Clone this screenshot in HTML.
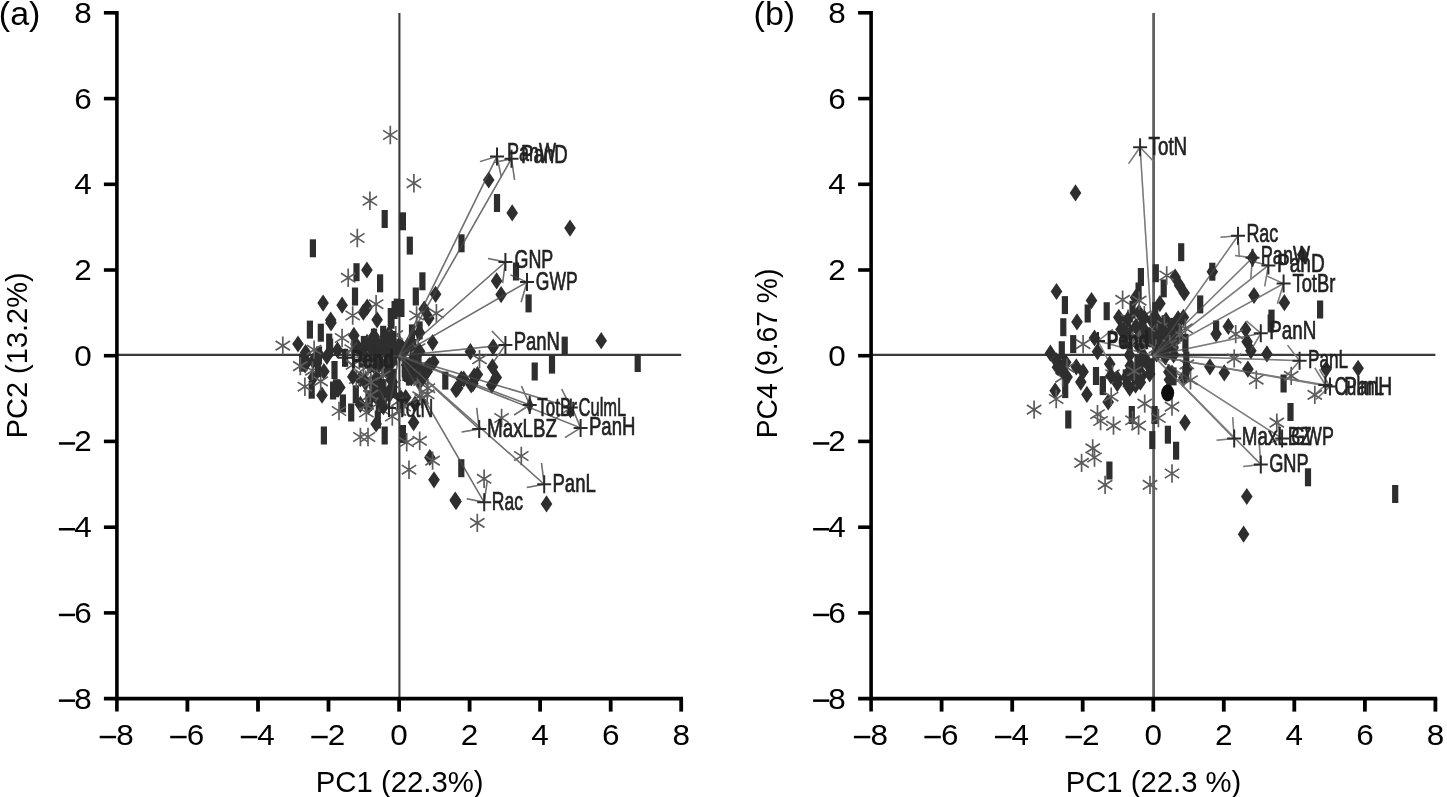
<!DOCTYPE html>
<html><head><meta charset="utf-8"><title>PCA biplots</title>
<style>
html,body{margin:0;padding:0;background:#fff;}
body{width:1447px;height:797px;overflow:hidden;}
svg{display:block;will-change:transform;}
text{font-family:"Liberation Sans",sans-serif;}
.t{font-size:28.6px;fill:#000;}
.l{font-size:26px;fill:#222;stroke:#222;stroke-width:0.7px;}
</style></head><body>
<svg width="1447" height="797" viewBox="0 0 1447 797">
<defs><filter id="b" x="-5%" y="-5%" width="110%" height="110%"><feGaussianBlur stdDeviation="0.55"/></filter></defs>
<rect width="1447" height="797" fill="#fff"/>
<g id="left">
<line x1="399.4" y1="13" x2="399.4" y2="698.6" stroke="#3a3a3a" stroke-width="2.1"/>
<line x1="116.9" y1="354.9" x2="681.2" y2="354.9" stroke="#3a3a3a" stroke-width="2.4"/>
<line x1="116.9" y1="11" x2="116.9" y2="711.6" stroke="#000" stroke-width="3.6"/>
<line x1="103.9" y1="698.6" x2="683.0" y2="698.6" stroke="#000" stroke-width="3.8"/>
<rect x="99.7" y="735.8" width="16.4" height="2.5" fill="#000"/>
<text class="t" transform="translate(125.0 745.0) scale(1.10 1)" text-anchor="middle">8</text>
<text class="t" transform="translate(82.9 708.6) scale(1.10 1)" text-anchor="middle">8</text>
<rect x="58.9" y="699.4" width="16.2" height="2.5" fill="#000"/>
<line x1="187.4" y1="698.6" x2="187.4" y2="711.6" stroke="#000" stroke-width="3.8"/>
<line x1="103.9" y1="612.9" x2="116.9" y2="612.9" stroke="#000" stroke-width="3.6"/>
<rect x="170.2" y="735.8" width="16.4" height="2.5" fill="#000"/>
<text class="t" transform="translate(195.5 745.0) scale(1.10 1)" text-anchor="middle">6</text>
<text class="t" transform="translate(82.9 622.9) scale(1.10 1)" text-anchor="middle">6</text>
<rect x="58.9" y="613.7" width="16.2" height="2.5" fill="#000"/>
<line x1="258.0" y1="698.6" x2="258.0" y2="711.6" stroke="#000" stroke-width="3.8"/>
<line x1="103.9" y1="527.2" x2="116.9" y2="527.2" stroke="#000" stroke-width="3.6"/>
<rect x="240.8" y="735.8" width="16.4" height="2.5" fill="#000"/>
<text class="t" transform="translate(266.1 745.0) scale(1.10 1)" text-anchor="middle">4</text>
<text class="t" transform="translate(82.9 537.2) scale(1.10 1)" text-anchor="middle">4</text>
<rect x="58.9" y="528.0" width="16.2" height="2.5" fill="#000"/>
<line x1="328.5" y1="698.6" x2="328.5" y2="711.6" stroke="#000" stroke-width="3.8"/>
<line x1="103.9" y1="441.4" x2="116.9" y2="441.4" stroke="#000" stroke-width="3.6"/>
<rect x="311.3" y="735.8" width="16.4" height="2.5" fill="#000"/>
<text class="t" transform="translate(336.6 745.0) scale(1.10 1)" text-anchor="middle">2</text>
<text class="t" transform="translate(82.9 451.4) scale(1.10 1)" text-anchor="middle">2</text>
<rect x="58.9" y="442.2" width="16.2" height="2.5" fill="#000"/>
<line x1="399.1" y1="698.6" x2="399.1" y2="711.6" stroke="#000" stroke-width="3.8"/>
<line x1="103.9" y1="355.7" x2="116.9" y2="355.7" stroke="#000" stroke-width="3.6"/>
<text class="t" transform="translate(399.1 745.0) scale(1.10 1)" text-anchor="middle">0</text>
<text class="t" transform="translate(82.9 365.7) scale(1.10 1)" text-anchor="middle">0</text>
<line x1="469.6" y1="698.6" x2="469.6" y2="711.6" stroke="#000" stroke-width="3.8"/>
<line x1="103.9" y1="270.0" x2="116.9" y2="270.0" stroke="#000" stroke-width="3.6"/>
<text class="t" transform="translate(469.6 745.0) scale(1.10 1)" text-anchor="middle">2</text>
<text class="t" transform="translate(82.9 280.0) scale(1.10 1)" text-anchor="middle">2</text>
<line x1="540.1" y1="698.6" x2="540.1" y2="711.6" stroke="#000" stroke-width="3.8"/>
<line x1="103.9" y1="184.3" x2="116.9" y2="184.3" stroke="#000" stroke-width="3.6"/>
<text class="t" transform="translate(540.1 745.0) scale(1.10 1)" text-anchor="middle">4</text>
<text class="t" transform="translate(82.9 194.3) scale(1.10 1)" text-anchor="middle">4</text>
<line x1="610.7" y1="698.6" x2="610.7" y2="711.6" stroke="#000" stroke-width="3.8"/>
<line x1="103.9" y1="98.6" x2="116.9" y2="98.6" stroke="#000" stroke-width="3.6"/>
<text class="t" transform="translate(610.7 745.0) scale(1.10 1)" text-anchor="middle">6</text>
<text class="t" transform="translate(82.9 108.6) scale(1.10 1)" text-anchor="middle">6</text>
<line x1="681.2" y1="698.6" x2="681.2" y2="711.6" stroke="#000" stroke-width="3.8"/>
<line x1="103.9" y1="12.8" x2="116.9" y2="12.8" stroke="#000" stroke-width="3.6"/>
<text class="t" transform="translate(681.2 745.0) scale(1.10 1)" text-anchor="middle">8</text>
<text class="t" transform="translate(82.9 22.8) scale(1.10 1)" text-anchor="middle">8</text>
<g filter="url(#b)">
<path d="M399.1 355.7L497.0 156.4M497.0 156.4L501.3 177.2M497.0 156.4L479.9 161.6" stroke="#707070" stroke-width="1.5" fill="none" opacity="1"/>
<path d="M399.1 355.7L511.5 158.7M511.5 158.7L514.6 179.8M511.5 158.7L494.1 162.5" stroke="#707070" stroke-width="1.5" fill="none" opacity="1"/>
<path d="M399.1 355.7L505.4 262.0M505.4 262.0L502.6 283.2M505.4 262.0L488.0 258.6" stroke="#707070" stroke-width="1.5" fill="none" opacity="1"/>
<path d="M399.1 355.7L527.0 282.1M527.0 282.1L521.1 302.3M527.0 282.1L510.4 274.9" stroke="#707070" stroke-width="1.5" fill="none" opacity="1"/>
<path d="M399.1 355.7L505.4 344.9M505.4 344.9L494.0 361.3M505.4 344.9L491.9 331.1" stroke="#707070" stroke-width="1.5" fill="none" opacity="1"/>
<path d="M399.1 355.7L529.7 405.0M529.7 405.0L514.1 415.0M529.7 405.0L521.5 386.0" stroke="#707070" stroke-width="1.5" fill="none" opacity="1"/>
<path d="M399.1 355.7L570.8 407.4M570.8 407.4L555.7 418.5M570.8 407.4L561.7 389.0" stroke="#707070" stroke-width="1.5" fill="none" opacity="1"/>
<path d="M399.1 355.7L580.6 427.9M580.6 427.9L564.9 437.6M580.6 427.9L572.6 408.8" stroke="#707070" stroke-width="1.5" fill="none" opacity="1"/>
<path d="M399.1 355.7L479.2 429.0M479.2 429.0L461.7 432.0M479.2 429.0L476.7 407.8" stroke="#707070" stroke-width="1.5" fill="none" opacity="1"/>
<path d="M399.1 355.7L544.2 484.2M544.2 484.2L526.8 487.5M544.2 484.2L541.5 463.0" stroke="#707070" stroke-width="1.5" fill="none" opacity="1"/>
<path d="M399.1 355.7L484.2 502.3M484.2 502.3L466.8 498.7M484.2 502.3L487.2 481.2" stroke="#707070" stroke-width="1.5" fill="none" opacity="1"/>
<path d="M399.1 355.7L345.0 357.8M345.0 357.8L357.1 342.2M345.0 357.8L357.9 372.5" stroke="#707070" stroke-width="1.5" fill="none" opacity="1"/>
<path d="M399.1 355.7L389.0 408.0M389.0 408.0L379.7 389.8M389.0 408.0L404.0 396.7" stroke="#707070" stroke-width="1.5" fill="none" opacity="1"/>
<rect x="381.6" y="210.0" width="6.2" height="18" fill="#2e2e2e"/>
<rect x="399.8" y="212.3" width="6.2" height="18" fill="#2e2e2e"/>
<rect x="309.8" y="239.3" width="6.2" height="18" fill="#2e2e2e"/>
<rect x="406.7" y="236.6" width="6.2" height="18" fill="#2e2e2e"/>
<rect x="458.4" y="234.3" width="6.2" height="18" fill="#2e2e2e"/>
<rect x="353.4" y="263.2" width="6.2" height="18" fill="#2e2e2e"/>
<rect x="377.0" y="274.3" width="6.2" height="18" fill="#2e2e2e"/>
<rect x="419.3" y="272.3" width="6.2" height="18" fill="#2e2e2e"/>
<rect x="351.9" y="287.5" width="6.2" height="18" fill="#2e2e2e"/>
<rect x="412.7" y="287.5" width="6.2" height="18" fill="#2e2e2e"/>
<rect x="398.3" y="299.0" width="6.2" height="18" fill="#2e2e2e"/>
<rect x="391.5" y="301.0" width="6.2" height="18" fill="#2e2e2e"/>
<rect x="387.7" y="308.0" width="6.2" height="18" fill="#2e2e2e"/>
<rect x="493.9" y="194.0" width="6.2" height="18" fill="#2e2e2e"/>
<rect x="512.9" y="262.5" width="6.2" height="18" fill="#2e2e2e"/>
<rect x="525.5" y="294.4" width="6.2" height="18" fill="#2e2e2e"/>
<rect x="561.6" y="336.6" width="6.2" height="18" fill="#2e2e2e"/>
<rect x="634.6" y="354.0" width="6.2" height="18" fill="#2e2e2e"/>
<rect x="548.9" y="355.6" width="6.2" height="18" fill="#2e2e2e"/>
<rect x="531.6" y="362.5" width="6.2" height="18" fill="#2e2e2e"/>
<rect x="442.2" y="371.6" width="6.2" height="18" fill="#2e2e2e"/>
<rect x="458.2" y="459.2" width="6.2" height="18" fill="#2e2e2e"/>
<rect x="306.8" y="320.6" width="6.2" height="18" fill="#2e2e2e"/>
<rect x="317.7" y="323.7" width="6.2" height="18" fill="#2e2e2e"/>
<rect x="308.6" y="380.7" width="6.2" height="18" fill="#2e2e2e"/>
<rect x="326.1" y="333.6" width="6.2" height="18" fill="#2e2e2e"/>
<rect x="331.4" y="361.0" width="6.2" height="18" fill="#2e2e2e"/>
<rect x="342.0" y="348.8" width="6.2" height="18" fill="#2e2e2e"/>
<rect x="393.7" y="298.6" width="6.2" height="18" fill="#2e2e2e"/>
<rect x="388.4" y="310.8" width="6.2" height="18" fill="#2e2e2e"/>
<rect x="408.9" y="324.4" width="6.2" height="18" fill="#2e2e2e"/>
<rect x="416.5" y="321.4" width="6.2" height="18" fill="#2e2e2e"/>
<rect x="339.8" y="394.4" width="6.2" height="18" fill="#2e2e2e"/>
<rect x="348.1" y="403.5" width="6.2" height="18" fill="#2e2e2e"/>
<rect x="352.7" y="385.3" width="6.2" height="18" fill="#2e2e2e"/>
<rect x="320.8" y="426.5" width="6.2" height="18" fill="#2e2e2e"/>
<rect x="381.6" y="426.5" width="6.2" height="18" fill="#2e2e2e"/>
<rect x="399.8" y="425.0" width="6.2" height="18" fill="#2e2e2e"/>
<rect x="374.7" y="410.5" width="6.2" height="18" fill="#2e2e2e"/>
<path d="M366.9 261.4L372.7 270.0L366.9 278.6L361.1 270.0Z" fill="#2e2e2e"/>
<path d="M323.1 294.5L328.9 303.1L323.1 311.7L317.3 303.1Z" fill="#2e2e2e"/>
<path d="M342.1 296.6L347.9 305.2L342.1 313.8L336.3 305.2Z" fill="#2e2e2e"/>
<path d="M435.6 285.7L441.4 294.3L435.6 302.9L429.8 294.3Z" fill="#2e2e2e"/>
<path d="M367.2 298.6L373.0 307.2L367.2 315.8L361.4 307.2Z" fill="#2e2e2e"/>
<path d="M330.7 311.4L336.5 320.0L330.7 328.6L324.9 320.0Z" fill="#2e2e2e"/>
<path d="M512.2 204.3L518.0 212.9L512.2 221.5L506.4 212.9Z" fill="#2e2e2e"/>
<path d="M570.0 219.5L575.8 228.1L570.0 236.7L564.2 228.1Z" fill="#2e2e2e"/>
<path d="M496.6 272.3L502.4 280.9L496.6 289.5L490.8 280.9Z" fill="#2e2e2e"/>
<path d="M501.1 286.0L506.9 294.6L501.1 303.2L495.3 294.6Z" fill="#2e2e2e"/>
<path d="M601.2 332.1L607.0 340.7L601.2 349.3L595.4 340.7Z" fill="#2e2e2e"/>
<path d="M470.4 343.1L476.2 351.7L470.4 360.3L464.6 351.7Z" fill="#2e2e2e"/>
<path d="M493.2 338.5L499.0 347.1L493.2 355.7L487.4 347.1Z" fill="#2e2e2e"/>
<path d="M492.5 358.3L498.3 366.9L492.5 375.5L486.7 366.9Z" fill="#2e2e2e"/>
<path d="M496.3 368.9L502.1 377.5L496.3 386.1L490.5 377.5Z" fill="#2e2e2e"/>
<path d="M491.7 376.4L497.5 385.0L491.7 393.6L485.9 385.0Z" fill="#2e2e2e"/>
<path d="M474.2 367.4L480.0 376.0L474.2 384.6L468.4 376.0Z" fill="#2e2e2e"/>
<path d="M471.2 376.4L477.0 385.0L471.2 393.6L465.4 385.0Z" fill="#2e2e2e"/>
<path d="M461.3 370.4L467.1 379.0L461.3 387.6L455.5 379.0Z" fill="#2e2e2e"/>
<path d="M456.0 381.1L461.8 389.7L456.0 398.3L450.2 389.7Z" fill="#2e2e2e"/>
<path d="M488.7 171.4L494.5 180.0L488.7 188.6L482.9 180.0Z" fill="#2e2e2e"/>
<path d="M455.2 491.4L461.0 500.0L455.2 508.6L449.4 500.0Z" fill="#2e2e2e"/>
<path d="M429.9 448.9L435.7 457.5L429.9 466.1L424.1 457.5Z" fill="#2e2e2e"/>
<path d="M434.0 471.2L439.8 479.8L434.0 488.4L428.2 479.8Z" fill="#2e2e2e"/>
<path d="M456.0 493.0L461.8 501.6L456.0 510.2L450.2 501.6Z" fill="#2e2e2e"/>
<path d="M546.5 495.3L552.3 503.9L546.5 512.5L540.7 503.9Z" fill="#2e2e2e"/>
<path d="M298.0 335.4L303.8 344.0L298.0 352.6L292.2 344.0Z" fill="#2e2e2e"/>
<path d="M305.6 343.9L311.4 352.5L305.6 361.1L299.8 352.5Z" fill="#2e2e2e"/>
<path d="M331.0 314.2L336.8 322.8L331.0 331.4L325.2 322.8Z" fill="#2e2e2e"/>
<path d="M313.2 368.9L319.0 377.5L313.2 386.1L307.4 377.5Z" fill="#2e2e2e"/>
<path d="M313.2 352.2L319.0 360.8L313.2 369.4L307.4 360.8Z" fill="#2e2e2e"/>
<path d="M323.9 362.9L329.7 371.5L323.9 380.1L318.1 371.5Z" fill="#2e2e2e"/>
<path d="M326.9 347.7L332.7 356.3L326.9 364.9L321.1 356.3Z" fill="#2e2e2e"/>
<path d="M337.5 341.6L343.3 350.2L337.5 358.8L331.7 350.2Z" fill="#2e2e2e"/>
<path d="M339.8 378.8L345.6 387.4L339.8 396.0L334.0 387.4Z" fill="#2e2e2e"/>
<path d="M355.8 335.5L361.6 344.1L355.8 352.7L350.0 344.1Z" fill="#2e2e2e"/>
<path d="M363.4 303.6L369.2 312.2L363.4 320.8L357.6 312.2Z" fill="#2e2e2e"/>
<path d="M377.1 311.2L382.9 319.8L377.1 328.4L371.3 319.8Z" fill="#2e2e2e"/>
<path d="M374.0 327.9L379.8 336.5L374.0 345.1L368.2 336.5Z" fill="#2e2e2e"/>
<path d="M389.2 324.8L395.0 333.4L389.2 342.0L383.4 333.4Z" fill="#2e2e2e"/>
<path d="M399.9 335.4L405.7 344.0L399.9 352.6L394.1 344.0Z" fill="#2e2e2e"/>
<path d="M424.2 300.5L430.0 309.1L424.2 317.7L418.4 309.1Z" fill="#2e2e2e"/>
<path d="M428.8 309.6L434.6 318.2L428.8 326.8L423.0 318.2Z" fill="#2e2e2e"/>
<path d="M432.6 334.0L438.4 342.6L432.6 351.2L426.8 342.6Z" fill="#2e2e2e"/>
<path d="M457.7 379.6L463.5 388.2L457.7 396.8L451.9 388.2Z" fill="#2e2e2e"/>
<path d="M463.7 370.4L469.5 379.0L463.7 387.6L457.9 379.0Z" fill="#2e2e2e"/>
<path d="M472.9 375.0L478.7 383.6L472.9 392.2L467.1 383.6Z" fill="#2e2e2e"/>
<path d="M477.4 365.9L483.2 374.5L477.4 383.1L471.6 374.5Z" fill="#2e2e2e"/>
<path d="M416.5 364.4L422.3 373.0L416.5 381.6L410.7 373.0Z" fill="#2e2e2e"/>
<path d="M427.2 362.9L433.0 371.5L427.2 380.1L421.4 371.5Z" fill="#2e2e2e"/>
<path d="M419.6 373.5L425.4 382.1L419.6 390.7L413.8 382.1Z" fill="#2e2e2e"/>
<path d="M413.6 414.0L419.4 422.6L413.6 431.2L407.8 422.6Z" fill="#2e2e2e"/>
<path d="M415.0 395.4L420.8 404.0L415.0 412.6L409.2 404.0Z" fill="#2e2e2e"/>
<rect x="383.8" y="355.2" width="6.2" height="18" fill="#2e2e2e"/>
<path d="M414.3 356.2L420.1 364.8L414.3 373.4L408.5 364.8Z" fill="#2e2e2e"/>
<path d="M353.9 326.8L359.7 335.4L353.9 344.0L348.1 335.4Z" fill="#2e2e2e"/>
<rect x="409.6" y="350.5" width="6.2" height="18" fill="#2e2e2e"/>
<rect x="390.4" y="368.7" width="6.2" height="18" fill="#2e2e2e"/>
<path d="M396.8 338.2L402.6 346.8L396.8 355.4L391.0 346.8Z" fill="#2e2e2e"/>
<rect x="370.9" y="328.6" width="6.2" height="18" fill="#2e2e2e"/>
<path d="M374.2 338.0L380.0 346.6L374.2 355.2L368.4 346.6Z" fill="#2e2e2e"/>
<path d="M429.9 356.7L435.7 365.3L429.9 373.9L424.1 365.3Z" fill="#2e2e2e"/>
<path d="M370.2 357.3L376.0 365.9L370.2 374.5L364.4 365.9Z" fill="#2e2e2e"/>
<rect x="360.8" y="335.9" width="6.2" height="18" fill="#2e2e2e"/>
<path d="M367.1 333.8L372.9 342.4L367.1 351.0L361.3 342.4Z" fill="#2e2e2e"/>
<rect x="414.7" y="362.3" width="6.2" height="18" fill="#2e2e2e"/>
<path d="M374.8 331.5V349.9M367.6 336.1L382.0 345.3M367.6 345.3L382.0 336.1" stroke="#5c5c5c" stroke-width="1.7" fill="none"/>
<path d="M395.8 325.9V344.3M388.6 330.5L403.0 339.7M388.6 339.7L403.0 330.5" stroke="#5c5c5c" stroke-width="1.7" fill="none"/>
<path d="M382.2 356.8L388.0 365.4L382.2 374.0L376.4 365.4Z" fill="#2e2e2e"/>
<path d="M387.3 333.6L393.1 342.2L387.3 350.8L381.5 342.2Z" fill="#2e2e2e"/>
<path d="M351.7 340.0V358.4M344.5 344.6L358.9 353.8M344.5 353.8L358.9 344.6" stroke="#5c5c5c" stroke-width="1.7" fill="none"/>
<rect x="375.7" y="395.0" width="6.2" height="18" fill="#2e2e2e"/>
<path d="M380.0 345.6L385.8 354.2L380.0 362.8L374.2 354.2Z" fill="#2e2e2e"/>
<rect x="402.3" y="363.0" width="6.2" height="18" fill="#2e2e2e"/>
<path d="M399.8 344.7L405.6 353.3L399.8 361.9L394.0 353.3Z" fill="#2e2e2e"/>
<path d="M382.0 359.9V378.3M374.8 364.5L389.2 373.7M374.8 373.7L389.2 364.5" stroke="#5c5c5c" stroke-width="1.7" fill="none"/>
<rect x="369.5" y="336.4" width="6.2" height="18" fill="#2e2e2e"/>
<rect x="410.2" y="339.0" width="6.2" height="18" fill="#2e2e2e"/>
<path d="M420.9 356.2V374.6M413.7 360.8L428.1 370.0M413.7 370.0L428.1 360.8" stroke="#5c5c5c" stroke-width="1.7" fill="none"/>
<path d="M387.7 363.8L393.5 372.4L387.7 381.0L381.9 372.4Z" fill="#2e2e2e"/>
<path d="M414.0 349.2L419.8 357.8L414.0 366.4L408.2 357.8Z" fill="#2e2e2e"/>
<path d="M374.1 332.9L379.9 341.5L374.1 350.1L368.3 341.5Z" fill="#2e2e2e"/>
<path d="M393.2 337.0L399.0 345.6L393.2 354.2L387.4 345.6Z" fill="#2e2e2e"/>
<path d="M356.3 369.8V388.2M349.1 374.4L363.5 383.6M349.1 383.6L363.5 374.4" stroke="#5c5c5c" stroke-width="1.7" fill="none"/>
<path d="M411.1 355.9L416.9 364.5L411.1 373.1L405.3 364.5Z" fill="#2e2e2e"/>
<path d="M419.5 324.1L425.3 332.7L419.5 341.3L413.7 332.7Z" fill="#2e2e2e"/>
<path d="M376.1 295.0V313.4M368.9 299.6L383.3 308.8M368.9 308.8L383.3 299.6" stroke="#5c5c5c" stroke-width="1.7" fill="none"/>
<path d="M403.0 343.7L408.8 352.3L403.0 360.9L397.2 352.3Z" fill="#2e2e2e"/>
<rect x="405.9" y="367.5" width="6.2" height="18" fill="#2e2e2e"/>
<path d="M365.4 348.7L371.2 357.3L365.4 365.9L359.6 357.3Z" fill="#2e2e2e"/>
<path d="M389.8 356.3L395.6 364.9L389.8 373.5L384.0 364.9Z" fill="#2e2e2e"/>
<path d="M378.5 336.4L384.3 345.0L378.5 353.6L372.7 345.0Z" fill="#2e2e2e"/>
<rect x="380.1" y="325.8" width="6.2" height="18" fill="#2e2e2e"/>
<path d="M353.0 355.6V374.0M345.8 360.2L360.2 369.4M345.8 369.4L360.2 360.2" stroke="#5c5c5c" stroke-width="1.7" fill="none"/>
<path d="M375.9 356.6V375.0M368.7 361.2L383.1 370.4M368.7 370.4L383.1 361.2" stroke="#5c5c5c" stroke-width="1.7" fill="none"/>
<rect x="384.1" y="341.2" width="6.2" height="18" fill="#2e2e2e"/>
<rect x="410.4" y="344.1" width="6.2" height="18" fill="#2e2e2e"/>
<rect x="385.4" y="351.0" width="6.2" height="18" fill="#2e2e2e"/>
<path d="M369.3 337.3L375.1 345.9L369.3 354.5L363.5 345.9Z" fill="#2e2e2e"/>
<path d="M386.2 341.9L392.0 350.5L386.2 359.1L380.4 350.5Z" fill="#2e2e2e"/>
<path d="M383.4 339.7L389.2 348.3L383.4 356.9L377.6 348.3Z" fill="#2e2e2e"/>
<path d="M418.1 339.0V357.4M410.9 343.6L425.3 352.8M410.9 352.8L425.3 343.6" stroke="#5c5c5c" stroke-width="1.7" fill="none"/>
<path d="M419.9 370.2V388.6M412.7 374.8L427.1 384.0M412.7 384.0L427.1 374.8" stroke="#5c5c5c" stroke-width="1.7" fill="none"/>
<path d="M374.8 348.3L380.6 356.9L374.8 365.5L369.0 356.9Z" fill="#2e2e2e"/>
<path d="M406.7 356.3L412.5 364.9L406.7 373.5L400.9 364.9Z" fill="#2e2e2e"/>
<rect x="358.5" y="349.7" width="6.2" height="18" fill="#2e2e2e"/>
<path d="M405.7 389.0L411.5 397.6L405.7 406.2L399.9 397.6Z" fill="#2e2e2e"/>
<rect x="404.0" y="363.9" width="6.2" height="18" fill="#2e2e2e"/>
<rect x="389.8" y="330.9" width="6.2" height="18" fill="#2e2e2e"/>
<path d="M386.8 333.2L392.6 341.8L386.8 350.4L381.0 341.8Z" fill="#2e2e2e"/>
<path d="M407.7 337.2L413.5 345.8L407.7 354.4L401.9 345.8Z" fill="#2e2e2e"/>
<path d="M358.0 340.0L363.8 348.6L358.0 357.2L352.2 348.6Z" fill="#2e2e2e"/>
<path d="M374.0 327.6L379.8 336.2L374.0 344.8L368.2 336.2Z" fill="#2e2e2e"/>
<path d="M373.5 356.6L379.3 365.2L373.5 373.8L367.7 365.2Z" fill="#2e2e2e"/>
<rect x="365.4" y="390.3" width="6.2" height="18" fill="#2e2e2e"/>
<path d="M393.7 375.4V393.8M386.5 380.0L400.9 389.2M386.5 389.2L400.9 380.0" stroke="#5c5c5c" stroke-width="1.7" fill="none"/>
<path d="M360.4 395.8L366.2 404.4L360.4 413.0L354.6 404.4Z" fill="#2e2e2e"/>
<path d="M322.0 386.6L327.8 395.2L322.0 403.8L316.2 395.2Z" fill="#2e2e2e"/>
<path d="M378.5 374.2L384.3 382.8L378.5 391.4L372.7 382.8Z" fill="#2e2e2e"/>
<path d="M378.2 385.5L384.0 394.1L378.2 402.7L372.4 394.1Z" fill="#2e2e2e"/>
<rect x="366.0" y="393.1" width="6.2" height="18" fill="#2e2e2e"/>
<rect x="332.9" y="379.2" width="6.2" height="18" fill="#2e2e2e"/>
<path d="M366.6 371.6V390.0M359.4 376.2L373.8 385.4M359.4 385.4L373.8 376.2" stroke="#5c5c5c" stroke-width="1.7" fill="none"/>
<path d="M368.0 357.2V375.6M360.8 361.8L375.2 371.0M360.8 371.0L375.2 361.8" stroke="#5c5c5c" stroke-width="1.7" fill="none"/>
<path d="M376.7 369.2L382.5 377.8L376.7 386.4L370.9 377.8Z" fill="#2e2e2e"/>
<path d="M399.2 391.8V410.2M392.0 396.4L406.4 405.6M392.0 405.6L406.4 396.4" stroke="#5c5c5c" stroke-width="1.7" fill="none"/>
<rect x="330.0" y="381.5" width="6.2" height="18" fill="#2e2e2e"/>
<path d="M360.3 370.2L366.1 378.8L360.3 387.4L354.5 378.8Z" fill="#2e2e2e"/>
<path d="M385.7 379.6V398.0M378.5 384.2L392.9 393.4M378.5 393.4L392.9 384.2" stroke="#5c5c5c" stroke-width="1.7" fill="none"/>
<path d="M365.5 370.5V388.9M358.3 375.1L372.7 384.3M358.3 384.3L372.7 375.1" stroke="#5c5c5c" stroke-width="1.7" fill="none"/>
<path d="M352.8 368.1L358.6 376.7L352.8 385.3L347.0 376.7Z" fill="#2e2e2e"/>
<rect x="390.9" y="379.9" width="6.2" height="18" fill="#2e2e2e"/>
<path d="M320.7 372.2V390.6M313.5 376.8L327.9 386.0M313.5 386.0L327.9 376.8" stroke="#5c5c5c" stroke-width="1.7" fill="none"/>
<path d="M373.8 376.7L379.6 385.3L373.8 393.9L368.0 385.3Z" fill="#2e2e2e"/>
<path d="M374.3 378.9L380.1 387.5L374.3 396.1L368.5 387.5Z" fill="#2e2e2e"/>
<path d="M363.4 366.2V384.6M356.2 370.8L370.6 380.0M356.2 380.0L370.6 370.8" stroke="#5c5c5c" stroke-width="1.7" fill="none"/>
<path d="M365.2 373.7L371.0 382.3L365.2 390.9L359.4 382.3Z" fill="#2e2e2e"/>
<path d="M383.2 366.2V384.6M376.0 370.8L390.4 380.0M376.0 380.0L390.4 370.8" stroke="#5c5c5c" stroke-width="1.7" fill="none"/>
<path d="M379.2 355.6L385.0 364.2L379.2 372.8L373.4 364.2Z" fill="#2e2e2e"/>
<rect x="303.0" y="348.6" width="6.2" height="18" fill="#2e2e2e"/>
<rect x="327.0" y="338.6" width="6.2" height="18" fill="#2e2e2e"/>
<path d="M318.9 345.8L324.7 354.4L318.9 363.0L313.1 354.4Z" fill="#2e2e2e"/>
<rect x="299.0" y="353.7" width="6.2" height="18" fill="#2e2e2e"/>
<path d="M312.4 361.5V379.9M305.2 366.1L319.6 375.3M305.2 375.3L319.6 366.1" stroke="#5c5c5c" stroke-width="1.7" fill="none"/>
<rect x="315.9" y="346.4" width="6.2" height="18" fill="#2e2e2e"/>
<rect x="315.0" y="359.1" width="6.2" height="18" fill="#2e2e2e"/>
<rect x="302.1" y="350.4" width="6.2" height="18" fill="#2e2e2e"/>
<path d="M305.1 356.2L310.9 364.8L305.1 373.4L299.3 364.8Z" fill="#2e2e2e"/>
<path d="M314.1 340.5V358.9M306.9 345.1L321.3 354.3M306.9 354.3L321.3 345.1" stroke="#5c5c5c" stroke-width="1.7" fill="none"/>
<path d="M407.5 363.0L413.3 371.6L407.5 380.2L401.7 371.6Z" fill="#2e2e2e"/>
<path d="M433.7 353.5L439.5 362.1L433.7 370.7L427.9 362.1Z" fill="#2e2e2e"/>
<rect x="414.8" y="358.4" width="6.2" height="18" fill="#2e2e2e"/>
<path d="M408.2 368.9L414.0 377.5L408.2 386.1L402.4 377.5Z" fill="#2e2e2e"/>
<path d="M408.8 366.4L414.6 375.0L408.8 383.6L403.0 375.0Z" fill="#2e2e2e"/>
<path d="M419.5 342.6L425.3 351.2L419.5 359.8L413.7 351.2Z" fill="#2e2e2e"/>
<path d="M428.3 358.1L434.1 366.7L428.3 375.3L422.5 366.7Z" fill="#2e2e2e"/>
<path d="M427.9 379.0V397.4M420.7 383.6L435.1 392.8M420.7 392.8L435.1 383.6" stroke="#5c5c5c" stroke-width="1.7" fill="none"/>
<path d="M419.7 387.0V405.4M412.5 391.6L426.9 400.8M412.5 400.8L426.9 391.6" stroke="#5c5c5c" stroke-width="1.7" fill="none"/>
<path d="M419.5 359.5L425.3 368.1L419.5 376.7L413.7 368.1Z" fill="#2e2e2e"/>
<path d="M420.6 371.8V390.2M413.4 376.4L427.8 385.6M413.4 385.6L427.8 376.4" stroke="#5c5c5c" stroke-width="1.7" fill="none"/>
<path d="M411.5 369.0L417.3 377.6L411.5 386.2L405.7 377.6Z" fill="#2e2e2e"/>
<path d="M423.0 368.6L428.8 377.2L423.0 385.8L417.2 377.2Z" fill="#2e2e2e"/>
<rect x="401.7" y="359.4" width="6.2" height="18" fill="#2e2e2e"/>
<path d="M368.3 397.8L374.1 406.4L368.3 415.0L362.5 406.4Z" fill="#2e2e2e"/>
<path d="M375.3 387.0L381.1 395.6L375.3 404.2L369.5 395.6Z" fill="#2e2e2e"/>
<path d="M386.0 386.3L391.8 394.9L386.0 403.5L380.2 394.9Z" fill="#2e2e2e"/>
<path d="M376.1 415.4L381.9 424.0L376.1 432.6L370.3 424.0Z" fill="#2e2e2e"/>
<path d="M379.1 393.6V412.0M371.9 398.2L386.3 407.4M371.9 407.4L386.3 398.2" stroke="#5c5c5c" stroke-width="1.7" fill="none"/>
<path d="M391.4 371.6L397.2 380.2L391.4 388.8L385.6 380.2Z" fill="#2e2e2e"/>
<path d="M366.6 395.8V414.2M359.4 400.4L373.8 409.6M359.4 409.6L373.8 400.4" stroke="#5c5c5c" stroke-width="1.7" fill="none"/>
<rect x="375.2" y="381.6" width="6.2" height="18" fill="#2e2e2e"/>
<rect x="379.4" y="379.1" width="6.2" height="18" fill="#2e2e2e"/>
<rect x="376.6" y="389.4" width="6.2" height="18" fill="#2e2e2e"/>
<path d="M381.7 382.2L387.5 390.8L381.7 399.4L375.9 390.8Z" fill="#2e2e2e"/>
<path d="M403.7 397.3V415.7M396.5 401.9L410.9 411.1M396.5 411.1L410.9 401.9" stroke="#5c5c5c" stroke-width="1.7" fill="none"/>
<path d="M421.7 389.8V408.2M414.5 394.4L428.9 403.6M414.5 403.6L428.9 394.4" stroke="#5c5c5c" stroke-width="1.7" fill="none"/>
<path d="M389.2 382.8L395.0 391.4L389.2 400.0L383.4 391.4Z" fill="#2e2e2e"/>
<rect x="396.6" y="392.5" width="6.2" height="18" fill="#2e2e2e"/>
<path d="M389.9 385.5L395.7 394.1L389.9 402.7L384.1 394.1Z" fill="#2e2e2e"/>
<path d="M383.4 398.1L389.2 406.7L383.4 415.3L377.6 406.7Z" fill="#2e2e2e"/>
<path d="M371.3 385.1V403.5M364.1 389.7L378.5 398.9M364.1 398.9L378.5 389.7" stroke="#5c5c5c" stroke-width="1.7" fill="none"/>
<path d="M371.9 387.4L377.7 396.0L371.9 404.6L366.1 396.0Z" fill="#2e2e2e"/>
<rect x="390.8" y="347.4" width="6.2" height="18" fill="#2e2e2e"/>
<path d="M401.0 389.4L406.8 398.0L401.0 406.6L395.2 398.0Z" fill="#2e2e2e"/>
<path d="M370.3 385.9V404.3M363.1 390.5L377.5 399.7M363.1 399.7L377.5 390.5" stroke="#5c5c5c" stroke-width="1.7" fill="none"/>
<path d="M398.9 401.7V420.1M391.7 406.3L406.1 415.5M391.7 415.5L406.1 406.3" stroke="#5c5c5c" stroke-width="1.7" fill="none"/>
<path d="M370.9 373.2V391.6M363.7 377.8L378.1 387.0M363.7 387.0L378.1 377.8" stroke="#5c5c5c" stroke-width="1.7" fill="none"/>
<path d="M390.3 125.8V144.2M383.1 130.4L397.5 139.6M383.1 139.6L397.5 130.4" stroke="#5c5c5c" stroke-width="1.7" fill="none"/>
<path d="M413.9 174.0V192.4M406.7 178.6L421.1 187.8M406.7 187.8L421.1 178.6" stroke="#5c5c5c" stroke-width="1.7" fill="none"/>
<path d="M369.9 191.6V210.0M362.7 196.2L377.1 205.4M362.7 205.4L377.1 196.2" stroke="#5c5c5c" stroke-width="1.7" fill="none"/>
<path d="M357.3 228.8V247.2M350.1 233.4L364.5 242.6M350.1 242.6L364.5 233.4" stroke="#5c5c5c" stroke-width="1.7" fill="none"/>
<path d="M348.2 268.6V287.0M341.0 273.2L355.4 282.4M341.0 282.4L355.4 273.2" stroke="#5c5c5c" stroke-width="1.7" fill="none"/>
<path d="M352.7 306.3V324.7M345.5 310.9L359.9 320.1M345.5 320.1L359.9 310.9" stroke="#5c5c5c" stroke-width="1.7" fill="none"/>
<path d="M416.6 306.3V324.7M409.4 310.9L423.8 320.1M409.4 320.1L423.8 310.9" stroke="#5c5c5c" stroke-width="1.7" fill="none"/>
<path d="M436.4 304.1V322.5M429.2 308.7L443.6 317.9M429.2 317.9L443.6 308.7" stroke="#5c5c5c" stroke-width="1.7" fill="none"/>
<path d="M479.5 350.1V368.5M472.3 354.7L486.7 363.9M472.3 363.9L486.7 354.7" stroke="#5c5c5c" stroke-width="1.7" fill="none"/>
<path d="M501.6 408.8V427.2M494.4 413.4L508.8 422.6M494.4 422.6L508.8 413.4" stroke="#5c5c5c" stroke-width="1.7" fill="none"/>
<path d="M521.3 446.8V465.2M514.1 451.4L528.5 460.6M514.1 460.6L528.5 451.4" stroke="#5c5c5c" stroke-width="1.7" fill="none"/>
<path d="M484.1 469.6V488.0M476.9 474.2L491.3 483.4M476.9 483.4L491.3 474.2" stroke="#5c5c5c" stroke-width="1.7" fill="none"/>
<path d="M477.3 513.7V532.1M470.1 518.3L484.5 527.5M470.1 527.5L484.5 518.3" stroke="#5c5c5c" stroke-width="1.7" fill="none"/>
<path d="M282.8 336.4V354.8M275.6 341.0L290.0 350.2M275.6 350.2L290.0 341.0" stroke="#5c5c5c" stroke-width="1.7" fill="none"/>
<path d="M342.1 328.8V347.2M334.9 333.4L349.3 342.6M334.9 342.6L349.3 333.4" stroke="#5c5c5c" stroke-width="1.7" fill="none"/>
<path d="M300.3 356.9V375.3M293.1 361.5L307.5 370.7M293.1 370.7L307.5 361.5" stroke="#5c5c5c" stroke-width="1.7" fill="none"/>
<path d="M304.9 377.5V395.9M297.7 382.1L312.1 391.3M297.7 391.3L312.1 382.1" stroke="#5c5c5c" stroke-width="1.7" fill="none"/>
<path d="M427.2 385.1V403.5M420.0 389.7L434.4 398.9M420.0 398.9L434.4 389.7" stroke="#5c5c5c" stroke-width="1.7" fill="none"/>
<path d="M339.0 401.8V420.2M331.8 406.4L346.2 415.6M331.8 415.6L346.2 406.4" stroke="#5c5c5c" stroke-width="1.7" fill="none"/>
<path d="M366.4 403.3V421.7M359.2 407.9L373.6 417.1M359.2 417.1L373.6 407.9" stroke="#5c5c5c" stroke-width="1.7" fill="none"/>
<path d="M360.4 427.8V446.2M353.2 432.4L367.6 441.6M353.2 441.6L367.6 432.4" stroke="#5c5c5c" stroke-width="1.7" fill="none"/>
<path d="M368.0 427.8V446.2M360.8 432.4L375.2 441.6M360.8 441.6L375.2 432.4" stroke="#5c5c5c" stroke-width="1.7" fill="none"/>
<path d="M406.7 433.1V451.5M399.5 437.7L413.9 446.9M399.5 446.9L413.9 437.7" stroke="#5c5c5c" stroke-width="1.7" fill="none"/>
<path d="M419.7 431.6V450.0M412.5 436.2L426.9 445.4M412.5 445.4L426.9 436.2" stroke="#5c5c5c" stroke-width="1.7" fill="none"/>
<path d="M432.6 451.4V469.8M425.4 456.0L439.8 465.2M425.4 465.2L439.8 456.0" stroke="#5c5c5c" stroke-width="1.7" fill="none"/>
<path d="M409.0 460.5V478.9M401.8 465.1L416.2 474.3M401.8 474.3L416.2 465.1" stroke="#5c5c5c" stroke-width="1.7" fill="none"/>
<path d="M392.3 407.3V425.7M385.1 411.9L399.5 421.1M385.1 421.1L399.5 411.9" stroke="#5c5c5c" stroke-width="1.7" fill="none"/>
<path d="M529.7 396.5L533.4 405.2L529.7 414L526 405.2Z" fill="#2e2e2e"/>
<path d="M570.4 405.5L574.6 412L570.4 418.5L566.2 412Z" fill="#2e2e2e"/>
<path d="M399.1 355.7L497.0 156.4M497.0 156.4L501.3 177.2M497.0 156.4L479.9 161.6" stroke="#707070" stroke-width="1.5" fill="none" opacity="0.3"/>
<path d="M399.1 355.7L511.5 158.7M511.5 158.7L514.6 179.8M511.5 158.7L494.1 162.5" stroke="#707070" stroke-width="1.5" fill="none" opacity="0.3"/>
<path d="M399.1 355.7L505.4 262.0M505.4 262.0L502.6 283.2M505.4 262.0L488.0 258.6" stroke="#707070" stroke-width="1.5" fill="none" opacity="0.3"/>
<path d="M399.1 355.7L527.0 282.1M527.0 282.1L521.1 302.3M527.0 282.1L510.4 274.9" stroke="#707070" stroke-width="1.5" fill="none" opacity="0.3"/>
<path d="M399.1 355.7L505.4 344.9M505.4 344.9L494.0 361.3M505.4 344.9L491.9 331.1" stroke="#707070" stroke-width="1.5" fill="none" opacity="0.3"/>
<path d="M399.1 355.7L529.7 405.0M529.7 405.0L514.1 415.0M529.7 405.0L521.5 386.0" stroke="#707070" stroke-width="1.5" fill="none" opacity="0.3"/>
<path d="M399.1 355.7L570.8 407.4M570.8 407.4L555.7 418.5M570.8 407.4L561.7 389.0" stroke="#707070" stroke-width="1.5" fill="none" opacity="0.3"/>
<path d="M399.1 355.7L580.6 427.9M580.6 427.9L564.9 437.6M580.6 427.9L572.6 408.8" stroke="#707070" stroke-width="1.5" fill="none" opacity="0.3"/>
<path d="M399.1 355.7L479.2 429.0M479.2 429.0L461.7 432.0M479.2 429.0L476.7 407.8" stroke="#707070" stroke-width="1.5" fill="none" opacity="0.3"/>
<path d="M399.1 355.7L544.2 484.2M544.2 484.2L526.8 487.5M544.2 484.2L541.5 463.0" stroke="#707070" stroke-width="1.5" fill="none" opacity="0.3"/>
<path d="M399.1 355.7L484.2 502.3M484.2 502.3L466.8 498.7M484.2 502.3L487.2 481.2" stroke="#707070" stroke-width="1.5" fill="none" opacity="0.3"/>
<path d="M399.1 355.7L345.0 357.8M345.0 357.8L357.1 342.2M345.0 357.8L357.9 372.5" stroke="#707070" stroke-width="1.5" fill="none" opacity="0.3"/>
<path d="M399.1 355.7L389.0 408.0M389.0 408.0L379.7 389.8M389.0 408.0L404.0 396.7" stroke="#707070" stroke-width="1.5" fill="none" opacity="0.3"/>
<path d="M490.0 156.4H504.0M497.0 147.4V165.4" stroke="#2c2c2c" stroke-width="2.0" fill="none"/>
<path d="M504.5 158.7H518.5M511.5 149.7V167.7" stroke="#2c2c2c" stroke-width="2.0" fill="none"/>
<path d="M498.4 262.0H512.4M505.4 253.0V271.0" stroke="#2c2c2c" stroke-width="2.0" fill="none"/>
<path d="M520.0 282.1H534.0M527.0 273.1V291.1" stroke="#2c2c2c" stroke-width="2.0" fill="none"/>
<path d="M498.4 344.9H512.4M505.4 335.9V353.9" stroke="#2c2c2c" stroke-width="2.0" fill="none"/>
<path d="M522.7 405.0H536.7M529.7 396.0V414.0" stroke="#2c2c2c" stroke-width="2.0" fill="none"/>
<path d="M563.8 407.4H577.8M570.8 398.4V416.4" stroke="#2c2c2c" stroke-width="2.0" fill="none"/>
<path d="M573.6 427.9H587.6M580.6 418.9V436.9" stroke="#2c2c2c" stroke-width="2.0" fill="none"/>
<path d="M472.2 429.0H486.2M479.2 420.0V438.0" stroke="#2c2c2c" stroke-width="2.0" fill="none"/>
<path d="M537.2 484.2H551.2M544.2 475.2V493.2" stroke="#2c2c2c" stroke-width="2.0" fill="none"/>
<path d="M477.2 502.3H491.2M484.2 493.3V511.3" stroke="#2c2c2c" stroke-width="2.0" fill="none"/>
<path d="M338.0 357.8H352.0M345.0 348.8V366.8" stroke="#2c2c2c" stroke-width="2.0" fill="none"/>
<path d="M382.0 408.0H396.0M389.0 399.0V417.0" stroke="#2c2c2c" stroke-width="2.0" fill="none"/>
<text class="l" x="507.0" y="160.5" textLength="49.0" lengthAdjust="spacingAndGlyphs">PanW</text>
<text class="l" x="521.0" y="162.5" textLength="46.7" lengthAdjust="spacingAndGlyphs">PanD</text>
<text class="l" x="514.5" y="268.4" textLength="38.8" lengthAdjust="spacingAndGlyphs">GNP</text>
<text class="l" x="535.8" y="289.7" textLength="41.8" lengthAdjust="spacingAndGlyphs">GWP</text>
<text class="l" x="513.7" y="350.2" textLength="46.3" lengthAdjust="spacingAndGlyphs">PanN</text>
<text class="l" x="537.3" y="415.7" textLength="39.7" lengthAdjust="spacingAndGlyphs">TotBr</text>
<text class="l" x="578.5" y="416.0" textLength="47.8" lengthAdjust="spacingAndGlyphs">CulmL</text>
<text class="l" x="589.0" y="434.7" textLength="46.4" lengthAdjust="spacingAndGlyphs">PanH</text>
<text class="l" x="487.1" y="437.0" textLength="70.0" lengthAdjust="spacingAndGlyphs">MaxLBZ</text>
<text class="l" x="552.5" y="492.2" textLength="43.3" lengthAdjust="spacingAndGlyphs">PanL</text>
<text class="l" x="491.8" y="510.0" textLength="31.1" lengthAdjust="spacingAndGlyphs">Rac</text>
<text class="l" x="396.8" y="416.5" textLength="36.5" lengthAdjust="spacingAndGlyphs">TotN</text>
<text class="l" x="351.0" y="367.7" textLength="43.0" lengthAdjust="spacingAndGlyphs" font-weight="bold">Pend</text>
</g></g>
<g id="right">
<line x1="1153.6" y1="13" x2="1153.6" y2="698.6" stroke="#606060" stroke-width="2.8"/>
<line x1="871.1" y1="354.9" x2="1435.4" y2="354.9" stroke="#3a3a3a" stroke-width="2.4"/>
<line x1="871.1" y1="11" x2="871.1" y2="711.6" stroke="#000" stroke-width="3.6"/>
<line x1="858.1" y1="698.6" x2="1437.2" y2="698.6" stroke="#000" stroke-width="3.8"/>
<rect x="853.9" y="735.8" width="16.4" height="2.5" fill="#000"/>
<text class="t" transform="translate(879.2 745.0) scale(1.10 1)" text-anchor="middle">8</text>
<text class="t" transform="translate(837.1 708.6) scale(1.10 1)" text-anchor="middle">8</text>
<rect x="813.1" y="699.4" width="16.2" height="2.5" fill="#000"/>
<line x1="941.6" y1="698.6" x2="941.6" y2="711.6" stroke="#000" stroke-width="3.8"/>
<line x1="858.1" y1="612.9" x2="871.1" y2="612.9" stroke="#000" stroke-width="3.6"/>
<rect x="924.4" y="735.8" width="16.4" height="2.5" fill="#000"/>
<text class="t" transform="translate(949.7 745.0) scale(1.10 1)" text-anchor="middle">6</text>
<text class="t" transform="translate(837.1 622.9) scale(1.10 1)" text-anchor="middle">6</text>
<rect x="813.1" y="613.7" width="16.2" height="2.5" fill="#000"/>
<line x1="1012.2" y1="698.6" x2="1012.2" y2="711.6" stroke="#000" stroke-width="3.8"/>
<line x1="858.1" y1="527.2" x2="871.1" y2="527.2" stroke="#000" stroke-width="3.6"/>
<rect x="995.0" y="735.8" width="16.4" height="2.5" fill="#000"/>
<text class="t" transform="translate(1020.3 745.0) scale(1.10 1)" text-anchor="middle">4</text>
<text class="t" transform="translate(837.1 537.2) scale(1.10 1)" text-anchor="middle">4</text>
<rect x="813.1" y="528.0" width="16.2" height="2.5" fill="#000"/>
<line x1="1082.7" y1="698.6" x2="1082.7" y2="711.6" stroke="#000" stroke-width="3.8"/>
<line x1="858.1" y1="441.4" x2="871.1" y2="441.4" stroke="#000" stroke-width="3.6"/>
<rect x="1065.5" y="735.8" width="16.4" height="2.5" fill="#000"/>
<text class="t" transform="translate(1090.8 745.0) scale(1.10 1)" text-anchor="middle">2</text>
<text class="t" transform="translate(837.1 451.4) scale(1.10 1)" text-anchor="middle">2</text>
<rect x="813.1" y="442.2" width="16.2" height="2.5" fill="#000"/>
<line x1="1153.3" y1="698.6" x2="1153.3" y2="711.6" stroke="#000" stroke-width="3.8"/>
<line x1="858.1" y1="355.7" x2="871.1" y2="355.7" stroke="#000" stroke-width="3.6"/>
<text class="t" transform="translate(1153.3 745.0) scale(1.10 1)" text-anchor="middle">0</text>
<text class="t" transform="translate(837.1 365.7) scale(1.10 1)" text-anchor="middle">0</text>
<line x1="1223.8" y1="698.6" x2="1223.8" y2="711.6" stroke="#000" stroke-width="3.8"/>
<line x1="858.1" y1="270.0" x2="871.1" y2="270.0" stroke="#000" stroke-width="3.6"/>
<text class="t" transform="translate(1223.8 745.0) scale(1.10 1)" text-anchor="middle">2</text>
<text class="t" transform="translate(837.1 280.0) scale(1.10 1)" text-anchor="middle">2</text>
<line x1="1294.3" y1="698.6" x2="1294.3" y2="711.6" stroke="#000" stroke-width="3.8"/>
<line x1="858.1" y1="184.3" x2="871.1" y2="184.3" stroke="#000" stroke-width="3.6"/>
<text class="t" transform="translate(1294.3 745.0) scale(1.10 1)" text-anchor="middle">4</text>
<text class="t" transform="translate(837.1 194.3) scale(1.10 1)" text-anchor="middle">4</text>
<line x1="1364.9" y1="698.6" x2="1364.9" y2="711.6" stroke="#000" stroke-width="3.8"/>
<line x1="858.1" y1="98.6" x2="871.1" y2="98.6" stroke="#000" stroke-width="3.6"/>
<text class="t" transform="translate(1364.9 745.0) scale(1.10 1)" text-anchor="middle">6</text>
<text class="t" transform="translate(837.1 108.6) scale(1.10 1)" text-anchor="middle">6</text>
<line x1="1435.4" y1="698.6" x2="1435.4" y2="711.6" stroke="#000" stroke-width="3.8"/>
<line x1="858.1" y1="12.8" x2="871.1" y2="12.8" stroke="#000" stroke-width="3.6"/>
<text class="t" transform="translate(1435.4 745.0) scale(1.10 1)" text-anchor="middle">8</text>
<text class="t" transform="translate(837.1 22.8) scale(1.10 1)" text-anchor="middle">8</text>
<g filter="url(#b)">
<path d="M1153.3 355.7L1140.1 147.3M1140.1 147.3L1153.5 161.2M1140.1 147.3L1128.6 163.6" stroke="#7c7c7c" stroke-width="1.5" fill="none" opacity="1"/>
<path d="M1153.3 355.7L1238.0 235.7M1238.0 235.7L1239.3 257.1M1238.0 235.7L1220.4 237.3" stroke="#7c7c7c" stroke-width="1.5" fill="none" opacity="1"/>
<path d="M1153.3 355.7L1252.5 257.8M1252.5 257.8L1250.7 279.1M1252.5 257.8L1235.0 255.6" stroke="#7c7c7c" stroke-width="1.5" fill="none" opacity="1"/>
<path d="M1153.3 355.7L1268.4 265.4M1268.4 265.4L1264.7 286.3M1268.4 265.4L1251.2 260.9" stroke="#7c7c7c" stroke-width="1.5" fill="none" opacity="1"/>
<path d="M1153.3 355.7L1283.6 283.6M1283.6 283.6L1277.4 303.7M1283.6 283.6L1267.1 276.1" stroke="#7c7c7c" stroke-width="1.5" fill="none" opacity="1"/>
<path d="M1153.3 355.7L1260.8 333.3M1260.8 333.3L1250.6 350.8M1260.8 333.3L1246.4 320.9" stroke="#7c7c7c" stroke-width="1.5" fill="none" opacity="1"/>
<path d="M1153.3 355.7L1299.6 360.7M1299.6 360.7L1286.8 375.4M1299.6 360.7L1287.5 345.1" stroke="#7c7c7c" stroke-width="1.5" fill="none" opacity="1"/>
<path d="M1153.3 355.7L1325.4 385.0M1325.4 385.0L1311.3 397.9M1325.4 385.0L1314.8 367.9" stroke="#7c7c7c" stroke-width="1.5" fill="none" opacity="1"/>
<path d="M1153.3 355.7L1330.0 386.5M1330.0 386.5L1315.9 399.4M1330.0 386.5L1319.4 369.4" stroke="#7c7c7c" stroke-width="1.5" fill="none" opacity="1"/>
<path d="M1153.3 355.7L1234.2 438.5M1234.2 438.5L1216.6 440.3M1234.2 438.5L1232.7 417.1" stroke="#7c7c7c" stroke-width="1.5" fill="none" opacity="1"/>
<path d="M1153.3 355.7L1282.1 438.5M1282.1 438.5L1265.2 444.8M1282.1 438.5L1276.9 418.0" stroke="#7c7c7c" stroke-width="1.5" fill="none" opacity="1"/>
<path d="M1153.3 355.7L1260.8 464.4M1260.8 464.4L1243.2 466.4M1260.8 464.4L1259.2 443.1" stroke="#7c7c7c" stroke-width="1.5" fill="none" opacity="1"/>
<path d="M1153.3 355.7L1098.0 341.0M1098.0 341.0L1112.9 329.4M1098.0 341.0L1107.5 359.0" stroke="#7c7c7c" stroke-width="1.5" fill="none" opacity="1"/>
<rect x="1178.1" y="243.2" width="6.2" height="18" fill="#2e2e2e"/>
<rect x="1197.1" y="295.4" width="6.2" height="18" fill="#2e2e2e"/>
<rect x="1137.8" y="268.0" width="6.2" height="18" fill="#2e2e2e"/>
<rect x="1152.7" y="264.2" width="6.2" height="18" fill="#2e2e2e"/>
<rect x="1160.6" y="279.4" width="6.2" height="18" fill="#2e2e2e"/>
<rect x="1152.2" y="302.2" width="6.2" height="18" fill="#2e2e2e"/>
<rect x="1135.5" y="282.5" width="6.2" height="18" fill="#2e2e2e"/>
<rect x="1129.4" y="300.7" width="6.2" height="18" fill="#2e2e2e"/>
<rect x="1061.8" y="296.1" width="6.2" height="18" fill="#2e2e2e"/>
<rect x="1060.2" y="318.2" width="6.2" height="18" fill="#2e2e2e"/>
<rect x="1084.6" y="304.5" width="6.2" height="18" fill="#2e2e2e"/>
<rect x="1103.6" y="302.2" width="6.2" height="18" fill="#2e2e2e"/>
<rect x="1213.0" y="320.5" width="6.2" height="18" fill="#2e2e2e"/>
<rect x="1209.2" y="262.7" width="6.2" height="18" fill="#2e2e2e"/>
<rect x="1317.0" y="300.5" width="6.2" height="18" fill="#2e2e2e"/>
<rect x="1268.4" y="309.6" width="6.2" height="18" fill="#2e2e2e"/>
<rect x="1267.6" y="314.5" width="6.2" height="18" fill="#2e2e2e"/>
<rect x="1280.5" y="374.5" width="6.2" height="18" fill="#2e2e2e"/>
<rect x="1287.4" y="403.0" width="6.2" height="18" fill="#2e2e2e"/>
<rect x="1304.9" y="468.3" width="6.2" height="18" fill="#2e2e2e"/>
<rect x="1392.1" y="485.0" width="6.2" height="18" fill="#2e2e2e"/>
<rect x="1065.2" y="410.5" width="6.2" height="18" fill="#2e2e2e"/>
<rect x="1128.7" y="406.0" width="6.2" height="18" fill="#2e2e2e"/>
<rect x="1151.5" y="406.0" width="6.2" height="18" fill="#2e2e2e"/>
<rect x="1149.2" y="431.1" width="6.2" height="18" fill="#2e2e2e"/>
<rect x="1164.8" y="425.7" width="6.2" height="18" fill="#2e2e2e"/>
<rect x="1173.0" y="441.7" width="6.2" height="18" fill="#2e2e2e"/>
<rect x="1106.3" y="461.5" width="6.2" height="18" fill="#2e2e2e"/>
<rect x="1062.1" y="380.1" width="6.2" height="18" fill="#2e2e2e"/>
<rect x="1099.8" y="377.1" width="6.2" height="18" fill="#2e2e2e"/>
<rect x="1058.7" y="341.2" width="6.2" height="18" fill="#2e2e2e"/>
<rect x="1070.1" y="335.1" width="6.2" height="18" fill="#2e2e2e"/>
<rect x="1092.9" y="367.0" width="6.2" height="18" fill="#2e2e2e"/>
<rect x="1099.8" y="376.1" width="6.2" height="18" fill="#2e2e2e"/>
<path d="M1075.5 184.3L1081.3 192.9L1075.5 201.5L1069.7 192.9Z" fill="#2e2e2e"/>
<path d="M1212.3 263.1L1218.1 271.7L1212.3 280.3L1206.5 271.7Z" fill="#2e2e2e"/>
<path d="M1175.1 268.4L1180.9 277.0L1175.1 285.6L1169.3 277.0Z" fill="#2e2e2e"/>
<path d="M1179.6 276.8L1185.4 285.4L1179.6 294.0L1173.8 285.4Z" fill="#2e2e2e"/>
<path d="M1184.2 284.4L1190.0 293.0L1184.2 301.6L1178.4 293.0Z" fill="#2e2e2e"/>
<path d="M1159.9 295.0L1165.7 303.6L1159.9 312.2L1154.1 303.6Z" fill="#2e2e2e"/>
<path d="M1135.6 288.9L1141.4 297.5L1135.6 306.1L1129.8 297.5Z" fill="#2e2e2e"/>
<path d="M1056.5 282.9L1062.3 291.5L1056.5 300.1L1050.7 291.5Z" fill="#2e2e2e"/>
<path d="M1091.5 292.0L1097.3 300.6L1091.5 309.2L1085.7 300.6Z" fill="#2e2e2e"/>
<path d="M1077.0 313.3L1082.8 321.9L1077.0 330.5L1071.2 321.9Z" fill="#2e2e2e"/>
<path d="M1118.8 308.7L1124.6 317.3L1118.8 325.9L1113.0 317.3Z" fill="#2e2e2e"/>
<path d="M1166.0 311.7L1171.8 320.3L1166.0 328.9L1160.2 320.3Z" fill="#2e2e2e"/>
<path d="M1178.1 310.2L1183.9 318.8L1178.1 327.4L1172.3 318.8Z" fill="#2e2e2e"/>
<path d="M1183.4 308.7L1189.2 317.3L1183.4 325.9L1177.6 317.3Z" fill="#2e2e2e"/>
<path d="M1228.3 317.8L1234.1 326.4L1228.3 335.0L1222.5 326.4Z" fill="#2e2e2e"/>
<path d="M1216.1 325.4L1221.9 334.0L1216.1 342.6L1210.3 334.0Z" fill="#2e2e2e"/>
<path d="M1302.6 246.1L1308.4 254.7L1302.6 263.3L1296.8 254.7Z" fill="#2e2e2e"/>
<path d="M1254.0 286.9L1259.8 295.5L1254.0 304.1L1248.2 295.5Z" fill="#2e2e2e"/>
<path d="M1284.4 294.1L1290.2 302.7L1284.4 311.3L1278.6 302.7Z" fill="#2e2e2e"/>
<path d="M1245.6 320.9L1251.4 329.5L1245.6 338.1L1239.8 329.5Z" fill="#2e2e2e"/>
<path d="M1247.1 333.1L1252.9 341.7L1247.1 350.3L1241.3 341.7Z" fill="#2e2e2e"/>
<path d="M1250.9 342.2L1256.7 350.8L1250.9 359.4L1245.1 350.8Z" fill="#2e2e2e"/>
<path d="M1266.9 345.3L1272.7 353.9L1266.9 362.5L1261.1 353.9Z" fill="#2e2e2e"/>
<path d="M1209.9 358.2L1215.7 366.8L1209.9 375.4L1204.1 366.8Z" fill="#2e2e2e"/>
<path d="M1224.3 364.3L1230.1 372.9L1224.3 381.5L1218.5 372.9Z" fill="#2e2e2e"/>
<path d="M1247.9 360.5L1253.7 369.1L1247.9 377.7L1242.1 369.1Z" fill="#2e2e2e"/>
<path d="M1326.2 360.5L1332.0 369.1L1326.2 377.7L1320.4 369.1Z" fill="#2e2e2e"/>
<path d="M1358.1 359.7L1363.9 368.3L1358.1 376.9L1352.3 368.3Z" fill="#2e2e2e"/>
<path d="M1246.8 487.9L1252.6 496.5L1246.8 505.1L1241.0 496.5Z" fill="#2e2e2e"/>
<path d="M1243.6 525.6L1249.4 534.2L1243.6 542.8L1237.8 534.2Z" fill="#2e2e2e"/>
<path d="M1086.9 385.8L1092.7 394.4L1086.9 403.0L1081.1 394.4Z" fill="#2e2e2e"/>
<path d="M1108.2 393.4L1114.0 402.0L1108.2 410.6L1102.4 402.0Z" fill="#2e2e2e"/>
<path d="M1185.0 414.0L1190.8 422.6L1185.0 431.2L1179.2 422.6Z" fill="#2e2e2e"/>
<path d="M1166.7 384.3L1172.5 392.9L1166.7 401.5L1160.9 392.9Z" fill="#2e2e2e"/>
<path d="M1094.5 329.4L1100.3 338.0L1094.5 346.6L1088.7 338.0Z" fill="#2e2e2e"/>
<path d="M1097.5 343.1L1103.3 351.7L1097.5 360.3L1091.7 351.7Z" fill="#2e2e2e"/>
<path d="M1050.4 344.6L1056.2 353.2L1050.4 361.8L1044.6 353.2Z" fill="#2e2e2e"/>
<path d="M1056.5 352.2L1062.3 360.8L1056.5 369.4L1050.7 360.8Z" fill="#2e2e2e"/>
<path d="M1065.6 353.7L1071.4 362.3L1065.6 370.9L1059.8 362.3Z" fill="#2e2e2e"/>
<path d="M1076.3 358.3L1082.1 366.9L1076.3 375.5L1070.5 366.9Z" fill="#2e2e2e"/>
<path d="M1065.6 367.4L1071.4 376.0L1065.6 384.6L1059.8 376.0Z" fill="#2e2e2e"/>
<path d="M1080.8 373.5L1086.6 382.1L1080.8 390.7L1075.0 382.1Z" fill="#2e2e2e"/>
<path d="M1109.7 355.3L1115.5 363.9L1109.7 372.5L1103.9 363.9Z" fill="#2e2e2e"/>
<path d="M1117.3 375.0L1123.1 383.6L1117.3 392.2L1111.5 383.6Z" fill="#2e2e2e"/>
<path d="M1129.5 362.9L1135.3 371.5L1129.5 380.1L1123.7 371.5Z" fill="#2e2e2e"/>
<path d="M1141.6 367.4L1147.4 376.0L1141.6 384.6L1135.8 376.0Z" fill="#2e2e2e"/>
<path d="M1135.6 376.5L1141.4 385.1L1135.6 393.7L1129.8 385.1Z" fill="#2e2e2e"/>
<path d="M1172.0 324.8L1177.8 333.4L1172.0 342.0L1166.2 333.4Z" fill="#2e2e2e"/>
<path d="M1187.2 359.8L1193.0 368.4L1187.2 377.0L1181.4 368.4Z" fill="#2e2e2e"/>
<path d="M1172.0 364.4L1177.8 373.0L1172.0 381.6L1166.2 373.0Z" fill="#2e2e2e"/>
<path d="M1167.5 382.6L1173.3 391.2L1167.5 399.8L1161.7 391.2Z" fill="#2e2e2e"/>
<path d="M1252.5 249.2L1258.3 257.8L1252.5 266.4L1246.7 257.8Z" fill="#2e2e2e"/>
<path d="M1155.5 325.3L1161.3 333.9L1155.5 342.5L1149.7 333.9Z" fill="#2e2e2e"/>
<path d="M1156.6 326.1L1162.4 334.7L1156.6 343.3L1150.8 334.7Z" fill="#2e2e2e"/>
<rect x="1126.7" y="333.8" width="6.2" height="18" fill="#2e2e2e"/>
<path d="M1143.4 325.5L1149.2 334.1L1143.4 342.7L1137.6 334.1Z" fill="#2e2e2e"/>
<path d="M1137.1 328.7V347.1M1129.9 333.3L1144.3 342.5M1129.9 342.5L1144.3 333.3" stroke="#5c5c5c" stroke-width="1.7" fill="none"/>
<path d="M1158.4 313.3L1164.2 321.9L1158.4 330.5L1152.6 321.9Z" fill="#2e2e2e"/>
<rect x="1118.9" y="315.4" width="6.2" height="18" fill="#2e2e2e"/>
<path d="M1132.9 328.7V347.1M1125.7 333.3L1140.1 342.5M1125.7 342.5L1140.1 333.3" stroke="#5c5c5c" stroke-width="1.7" fill="none"/>
<path d="M1157.2 327.7L1163.0 336.3L1157.2 344.9L1151.4 336.3Z" fill="#2e2e2e"/>
<path d="M1161.8 324.6L1167.6 333.2L1161.8 341.8L1156.0 333.2Z" fill="#2e2e2e"/>
<path d="M1174.3 333.2L1180.1 341.8L1174.3 350.4L1168.5 341.8Z" fill="#2e2e2e"/>
<path d="M1141.5 327.3V345.7M1134.3 331.9L1148.7 341.1M1134.3 341.1L1148.7 331.9" stroke="#5c5c5c" stroke-width="1.7" fill="none"/>
<path d="M1153.2 332.7L1159.0 341.3L1153.2 349.9L1147.4 341.3Z" fill="#2e2e2e"/>
<rect x="1139.2" y="349.5" width="6.2" height="18" fill="#2e2e2e"/>
<path d="M1141.4 332.4V350.8M1134.2 337.0L1148.6 346.2M1134.2 346.2L1148.6 337.0" stroke="#5c5c5c" stroke-width="1.7" fill="none"/>
<path d="M1128.3 320.7L1134.1 329.3L1128.3 337.9L1122.5 329.3Z" fill="#2e2e2e"/>
<path d="M1138.1 336.3L1143.9 344.9L1138.1 353.5L1132.3 344.9Z" fill="#2e2e2e"/>
<path d="M1128.1 309.6V328.0M1120.9 314.2L1135.3 323.4M1120.9 323.4L1135.3 314.2" stroke="#5c5c5c" stroke-width="1.7" fill="none"/>
<path d="M1144.3 306.1V324.5M1137.1 310.7L1151.5 319.9M1137.1 319.9L1151.5 310.7" stroke="#5c5c5c" stroke-width="1.7" fill="none"/>
<path d="M1157.2 344.2L1163.0 352.8L1157.2 361.4L1151.4 352.8Z" fill="#2e2e2e"/>
<path d="M1171.2 333.5V351.9M1164.0 338.1L1178.4 347.3M1164.0 347.3L1178.4 338.1" stroke="#5c5c5c" stroke-width="1.7" fill="none"/>
<path d="M1139.0 303.7L1144.8 312.3L1139.0 320.9L1133.2 312.3Z" fill="#2e2e2e"/>
<rect x="1161.5" y="315.3" width="6.2" height="18" fill="#2e2e2e"/>
<path d="M1151.8 312.1L1157.6 320.7L1151.8 329.3L1146.0 320.7Z" fill="#2e2e2e"/>
<path d="M1146.0 329.3L1151.8 337.9L1146.0 346.5L1140.2 337.9Z" fill="#2e2e2e"/>
<path d="M1157.1 323.6V342.0M1149.9 328.2L1164.3 337.4M1149.9 337.4L1164.3 328.2" stroke="#5c5c5c" stroke-width="1.7" fill="none"/>
<path d="M1121.0 320.8L1126.8 329.4L1121.0 338.0L1115.2 329.4Z" fill="#2e2e2e"/>
<rect x="1137.6" y="327.1" width="6.2" height="18" fill="#2e2e2e"/>
<rect x="1138.7" y="311.6" width="6.2" height="18" fill="#2e2e2e"/>
<path d="M1138.8 322.8V341.2M1131.6 327.4L1146.0 336.6M1131.6 336.6L1146.0 327.4" stroke="#5c5c5c" stroke-width="1.7" fill="none"/>
<path d="M1141.9 332.5L1147.7 341.1L1141.9 349.7L1136.1 341.1Z" fill="#2e2e2e"/>
<path d="M1144.6 349.1L1150.4 357.7L1144.6 366.3L1138.8 357.7Z" fill="#2e2e2e"/>
<path d="M1139.2 291.4V309.8M1132.0 296.0L1146.4 305.2M1132.0 305.2L1146.4 296.0" stroke="#5c5c5c" stroke-width="1.7" fill="none"/>
<path d="M1145.6 323.1L1151.4 331.7L1145.6 340.3L1139.8 331.7Z" fill="#2e2e2e"/>
<path d="M1144.4 309.5L1150.2 318.1L1144.4 326.7L1138.6 318.1Z" fill="#2e2e2e"/>
<path d="M1150.0 330.8L1155.8 339.4L1150.0 348.0L1144.2 339.4Z" fill="#2e2e2e"/>
<path d="M1127.7 311.1L1133.5 319.7L1127.7 328.3L1121.9 319.7Z" fill="#2e2e2e"/>
<path d="M1147.6 327.8L1153.4 336.4L1147.6 345.0L1141.8 336.4Z" fill="#2e2e2e"/>
<path d="M1149.2 326.4L1155.0 335.0L1149.2 343.6L1143.4 335.0Z" fill="#2e2e2e"/>
<path d="M1136.0 317.8L1141.8 326.4L1136.0 335.0L1130.2 326.4Z" fill="#2e2e2e"/>
<rect x="1121.4" y="330.2" width="6.2" height="18" fill="#2e2e2e"/>
<path d="M1162.2 326.7L1168.0 335.3L1162.2 343.9L1156.4 335.3Z" fill="#2e2e2e"/>
<rect x="1176.1" y="322.8" width="6.2" height="18" fill="#2e2e2e"/>
<path d="M1140.4 331.8V350.2M1133.2 336.4L1147.6 345.6M1133.2 345.6L1147.6 336.4" stroke="#5c5c5c" stroke-width="1.7" fill="none"/>
<path d="M1157.8 326.9L1163.6 335.5L1157.8 344.1L1152.0 335.5Z" fill="#2e2e2e"/>
<path d="M1148.2 330.0L1154.0 338.6L1148.2 347.2L1142.4 338.6Z" fill="#2e2e2e"/>
<path d="M1140.6 364.0L1146.4 372.6L1140.6 381.2L1134.8 372.6Z" fill="#2e2e2e"/>
<path d="M1148.0 356.2L1153.8 364.8L1148.0 373.4L1142.2 364.8Z" fill="#2e2e2e"/>
<path d="M1112.5 365.0V383.4M1105.3 369.6L1119.7 378.8M1105.3 378.8L1119.7 369.6" stroke="#5c5c5c" stroke-width="1.7" fill="none"/>
<path d="M1135.9 364.9V383.3M1128.7 369.5L1143.1 378.7M1128.7 378.7L1143.1 369.5" stroke="#5c5c5c" stroke-width="1.7" fill="none"/>
<path d="M1130.3 357.1L1136.1 365.7L1130.3 374.3L1124.5 365.7Z" fill="#2e2e2e"/>
<rect x="1122.7" y="369.4" width="6.2" height="18" fill="#2e2e2e"/>
<path d="M1135.3 365.0L1141.1 373.6L1135.3 382.2L1129.5 373.6Z" fill="#2e2e2e"/>
<path d="M1138.0 361.5L1143.8 370.1L1138.0 378.7L1132.2 370.1Z" fill="#2e2e2e"/>
<path d="M1129.5 346.5L1135.3 355.1L1129.5 363.7L1123.7 355.1Z" fill="#2e2e2e"/>
<path d="M1134.9 368.1V386.5M1127.7 372.7L1142.1 381.9M1127.7 381.9L1142.1 372.7" stroke="#5c5c5c" stroke-width="1.7" fill="none"/>
<path d="M1149.7 365.3L1155.5 373.9L1149.7 382.5L1143.9 373.9Z" fill="#2e2e2e"/>
<rect x="1148.4" y="358.2" width="6.2" height="18" fill="#2e2e2e"/>
<path d="M1134.3 368.3L1140.1 376.9L1134.3 385.5L1128.5 376.9Z" fill="#2e2e2e"/>
<path d="M1130.9 361.6L1136.7 370.2L1130.9 378.8L1125.1 370.2Z" fill="#2e2e2e"/>
<path d="M1126.2 368.5L1132.0 377.1L1126.2 385.7L1120.4 377.1Z" fill="#2e2e2e"/>
<rect x="1134.4" y="355.7" width="6.2" height="18" fill="#2e2e2e"/>
<path d="M1140.9 353.6L1146.7 362.2L1140.9 370.8L1135.1 362.2Z" fill="#2e2e2e"/>
<path d="M1134.3 362.0V380.4M1127.1 366.6L1141.5 375.8M1127.1 375.8L1141.5 366.6" stroke="#5c5c5c" stroke-width="1.7" fill="none"/>
<path d="M1117.5 370.0L1123.3 378.6L1117.5 387.2L1111.7 378.6Z" fill="#2e2e2e"/>
<path d="M1110.9 367.2L1116.7 375.8L1110.9 384.4L1105.1 375.8Z" fill="#2e2e2e"/>
<path d="M1140.4 373.6L1146.2 382.2L1140.4 390.8L1134.6 382.2Z" fill="#2e2e2e"/>
<path d="M1129.7 379.5L1135.5 388.1L1129.7 396.7L1123.9 388.1Z" fill="#2e2e2e"/>
<path d="M1062.6 368.5V386.9M1055.4 373.1L1069.8 382.3M1055.4 382.3L1069.8 373.1" stroke="#5c5c5c" stroke-width="1.7" fill="none"/>
<path d="M1058.8 358.5L1064.6 367.1L1058.8 375.7L1053.0 367.1Z" fill="#2e2e2e"/>
<path d="M1067.1 358.5V376.9M1059.9 363.1L1074.3 372.3M1059.9 372.3L1074.3 363.1" stroke="#5c5c5c" stroke-width="1.7" fill="none"/>
<path d="M1057.5 358.6L1063.3 367.2L1057.5 375.8L1051.7 367.2Z" fill="#2e2e2e"/>
<path d="M1083.1 363.1L1088.9 371.7L1083.1 380.3L1077.3 371.7Z" fill="#2e2e2e"/>
<path d="M1061.4 360.3L1067.2 368.9L1061.4 377.5L1055.6 368.9Z" fill="#2e2e2e"/>
<path d="M1067.1 368.5L1072.9 377.1L1067.1 385.7L1061.3 377.1Z" fill="#2e2e2e"/>
<path d="M1055.2 382.2L1061.0 390.8L1055.2 399.4L1049.4 390.8Z" fill="#2e2e2e"/>
<path d="M1186.8 355.2V373.6M1179.6 359.8L1194.0 369.0M1179.6 369.0L1194.0 359.8" stroke="#5c5c5c" stroke-width="1.7" fill="none"/>
<path d="M1169.4 371.2L1175.2 379.8L1169.4 388.4L1163.6 379.8Z" fill="#2e2e2e"/>
<rect x="1170.4" y="367.4" width="6.2" height="18" fill="#2e2e2e"/>
<path d="M1168.9 363.5L1174.7 372.1L1168.9 380.7L1163.1 372.1Z" fill="#2e2e2e"/>
<path d="M1183.8 369.3L1189.6 377.9L1183.8 386.5L1178.0 377.9Z" fill="#2e2e2e"/>
<path d="M1190.5 371.0V389.4M1183.3 375.6L1197.7 384.8M1183.3 384.8L1197.7 375.6" stroke="#5c5c5c" stroke-width="1.7" fill="none"/>
<path d="M1171.9 367.9L1177.7 376.5L1171.9 385.1L1166.1 376.5Z" fill="#2e2e2e"/>
<rect x="1183.2" y="351.4" width="6.2" height="18" fill="#2e2e2e"/>
<path d="M1183.1 368.1V386.5M1175.9 372.7L1190.3 381.9M1175.9 381.9L1190.3 372.7" stroke="#5c5c5c" stroke-width="1.7" fill="none"/>
<rect x="1182.9" y="361.4" width="6.2" height="18" fill="#2e2e2e"/>
<path d="M1156.0 339.2V357.6M1148.8 343.8L1163.2 353.0M1148.8 353.0L1163.2 343.8" stroke="#5c5c5c" stroke-width="1.7" fill="none"/>
<rect x="1175.6" y="323.7" width="6.2" height="18" fill="#2e2e2e"/>
<rect x="1169.7" y="330.7" width="6.2" height="18" fill="#2e2e2e"/>
<path d="M1185.4 319.1V337.5M1178.2 323.7L1192.6 332.9M1178.2 332.9L1192.6 323.7" stroke="#5c5c5c" stroke-width="1.7" fill="none"/>
<rect x="1182.3" y="333.8" width="6.2" height="18" fill="#2e2e2e"/>
<rect x="1170.2" y="317.9" width="6.2" height="18" fill="#2e2e2e"/>
<path d="M1167.3 318.7L1173.1 327.3L1167.3 335.9L1161.5 327.3Z" fill="#2e2e2e"/>
<path d="M1164.3 316.1V334.5M1157.1 320.7L1171.5 329.9M1157.1 329.9L1171.5 320.7" stroke="#5c5c5c" stroke-width="1.7" fill="none"/>
<rect x="1167.5" y="320.4" width="6.2" height="18" fill="#2e2e2e"/>
<path d="M1165.3 348.2L1171.1 356.8L1165.3 365.4L1159.5 356.8Z" fill="#2e2e2e"/>
<rect x="1164.0" y="329.6" width="6.2" height="18" fill="#2e2e2e"/>
<path d="M1179.6 325.4V343.8M1172.4 330.0L1186.8 339.2M1172.4 339.2L1186.8 330.0" stroke="#5c5c5c" stroke-width="1.7" fill="none"/>
<path d="M1164.9 346.0L1170.7 354.6L1164.9 363.2L1159.1 354.6Z" fill="#2e2e2e"/>
<path d="M1160.9 338.5L1166.7 347.1L1160.9 355.7L1155.1 347.1Z" fill="#2e2e2e"/>
<path d="M1173.1 339.3L1178.9 347.9L1173.1 356.5L1167.3 347.9Z" fill="#2e2e2e"/>
<path d="M1170.3 339.0V357.4M1163.1 343.6L1177.5 352.8M1163.1 352.8L1177.5 343.6" stroke="#5c5c5c" stroke-width="1.7" fill="none"/>
<path d="M1170.4 340.3V358.7M1163.2 344.9L1177.6 354.1M1163.2 354.1L1177.6 344.9" stroke="#5c5c5c" stroke-width="1.7" fill="none"/>
<rect x="1167.4" y="333.8" width="6.2" height="18" fill="#2e2e2e"/>
<path d="M1162.3 322.4L1168.1 331.0L1162.3 339.6L1156.5 331.0Z" fill="#2e2e2e"/>
<path d="M1164.1 331.3L1169.9 339.9L1164.1 348.5L1158.3 339.9Z" fill="#2e2e2e"/>
<path d="M1165.4 325.6L1171.2 334.2L1165.4 342.8L1159.6 334.2Z" fill="#2e2e2e"/>
<path d="M1161.3 337.6L1167.1 346.2L1161.3 354.8L1155.5 346.2Z" fill="#2e2e2e"/>
<path d="M1166.6 344.4L1172.4 353.0L1166.6 361.6L1160.8 353.0Z" fill="#2e2e2e"/>
<path d="M1173.6 346.2L1179.4 354.8L1173.6 363.4L1167.8 354.8Z" fill="#2e2e2e"/>
<rect x="1169.3" y="330.0" width="6.2" height="18" fill="#2e2e2e"/>
<path d="M1169.7 335.0V353.4M1162.5 339.6L1176.9 348.8M1162.5 348.8L1176.9 339.6" stroke="#5c5c5c" stroke-width="1.7" fill="none"/>
<path d="M1167.4 338.1L1173.2 346.7L1167.4 355.3L1161.6 346.7Z" fill="#2e2e2e"/>
<path d="M1156.5 345.4L1162.3 354.0L1156.5 362.6L1150.7 354.0Z" fill="#2e2e2e"/>
<path d="M1166.7 266.3V284.7M1159.5 270.9L1173.9 280.1M1159.5 280.1L1173.9 270.9" stroke="#5c5c5c" stroke-width="1.7" fill="none"/>
<path d="M1122.6 290.6V309.0M1115.4 295.2L1129.8 304.4M1115.4 304.4L1129.8 295.2" stroke="#5c5c5c" stroke-width="1.7" fill="none"/>
<path d="M1235.7 324.9V343.3M1228.5 329.5L1242.9 338.7M1228.5 338.7L1242.9 329.5" stroke="#5c5c5c" stroke-width="1.7" fill="none"/>
<path d="M1234.2 349.2V367.6M1227.0 353.8L1241.4 363.0M1227.0 363.0L1241.4 353.8" stroke="#5c5c5c" stroke-width="1.7" fill="none"/>
<path d="M1256.3 370.5V388.9M1249.1 375.1L1263.5 384.3M1249.1 384.3L1263.5 375.1" stroke="#5c5c5c" stroke-width="1.7" fill="none"/>
<path d="M1291.2 366.7V385.1M1284.0 371.3L1298.4 380.5M1284.0 380.5L1298.4 371.3" stroke="#5c5c5c" stroke-width="1.7" fill="none"/>
<path d="M1314.8 385.7V404.1M1307.6 390.3L1322.0 399.5M1307.6 399.5L1322.0 390.3" stroke="#5c5c5c" stroke-width="1.7" fill="none"/>
<path d="M1276.8 413.4V431.8M1269.6 418.0L1284.0 427.2M1269.6 427.2L1284.0 418.0" stroke="#5c5c5c" stroke-width="1.7" fill="none"/>
<path d="M1034.1 400.4V418.8M1026.9 405.0L1041.3 414.2M1026.9 414.2L1041.3 405.0" stroke="#5c5c5c" stroke-width="1.7" fill="none"/>
<path d="M1056.2 389.8V408.2M1049.0 394.4L1063.4 403.6M1049.0 403.6L1063.4 394.4" stroke="#5c5c5c" stroke-width="1.7" fill="none"/>
<path d="M1097.5 405.0V423.4M1090.3 409.6L1104.7 418.8M1090.3 418.8L1104.7 409.6" stroke="#5c5c5c" stroke-width="1.7" fill="none"/>
<path d="M1100.6 411.8V430.2M1093.4 416.4L1107.8 425.6M1093.4 425.6L1107.8 416.4" stroke="#5c5c5c" stroke-width="1.7" fill="none"/>
<path d="M1113.5 416.4V434.8M1106.3 421.0L1120.7 430.2M1106.3 430.2L1120.7 421.0" stroke="#5c5c5c" stroke-width="1.7" fill="none"/>
<path d="M1132.5 411.1V429.5M1125.3 415.7L1139.7 424.9M1125.3 424.9L1139.7 415.7" stroke="#5c5c5c" stroke-width="1.7" fill="none"/>
<path d="M1138.6 416.4V434.8M1131.4 421.0L1145.8 430.2M1131.4 430.2L1145.8 421.0" stroke="#5c5c5c" stroke-width="1.7" fill="none"/>
<path d="M1144.7 394.4V412.8M1137.5 399.0L1151.9 408.2M1137.5 408.2L1151.9 399.0" stroke="#5c5c5c" stroke-width="1.7" fill="none"/>
<path d="M1172.0 397.4V415.8M1164.8 402.0L1179.2 411.2M1164.8 411.2L1179.2 402.0" stroke="#5c5c5c" stroke-width="1.7" fill="none"/>
<path d="M1158.4 408.8V427.2M1151.2 413.4L1165.6 422.6M1151.2 422.6L1165.6 413.4" stroke="#5c5c5c" stroke-width="1.7" fill="none"/>
<path d="M1111.2 387.5V405.9M1104.0 392.1L1118.4 401.3M1104.0 401.3L1118.4 392.1" stroke="#5c5c5c" stroke-width="1.7" fill="none"/>
<path d="M1092.7 439.2V457.6M1085.5 443.8L1099.9 453.0M1085.5 453.0L1099.9 443.8" stroke="#5c5c5c" stroke-width="1.7" fill="none"/>
<path d="M1094.5 448.3V466.7M1087.3 452.9L1101.7 462.1M1087.3 462.1L1101.7 452.9" stroke="#5c5c5c" stroke-width="1.7" fill="none"/>
<path d="M1081.6 453.7V472.1M1074.4 458.3L1088.8 467.5M1074.4 467.5L1088.8 458.3" stroke="#5c5c5c" stroke-width="1.7" fill="none"/>
<path d="M1105.1 475.7V494.1M1097.9 480.3L1112.3 489.5M1097.9 489.5L1112.3 480.3" stroke="#5c5c5c" stroke-width="1.7" fill="none"/>
<path d="M1150.0 475.7V494.1M1142.8 480.3L1157.2 489.5M1142.8 489.5L1157.2 480.3" stroke="#5c5c5c" stroke-width="1.7" fill="none"/>
<path d="M1172.0 464.3V482.7M1164.8 468.9L1179.2 478.1M1164.8 478.1L1179.2 468.9" stroke="#5c5c5c" stroke-width="1.7" fill="none"/>
<path d="M1083.1 334.9V353.3M1075.9 339.5L1090.3 348.7M1075.9 348.7L1090.3 339.5" stroke="#5c5c5c" stroke-width="1.7" fill="none"/>
<ellipse cx="1167.7" cy="393" rx="6.5" ry="8.5" fill="#111"/>
<path d="M1153.3 355.7L1140.1 147.3M1140.1 147.3L1153.5 161.2M1140.1 147.3L1128.6 163.6" stroke="#7c7c7c" stroke-width="1.5" fill="none" opacity="0.3"/>
<path d="M1153.3 355.7L1238.0 235.7M1238.0 235.7L1239.3 257.1M1238.0 235.7L1220.4 237.3" stroke="#7c7c7c" stroke-width="1.5" fill="none" opacity="0.3"/>
<path d="M1153.3 355.7L1252.5 257.8M1252.5 257.8L1250.7 279.1M1252.5 257.8L1235.0 255.6" stroke="#7c7c7c" stroke-width="1.5" fill="none" opacity="0.3"/>
<path d="M1153.3 355.7L1268.4 265.4M1268.4 265.4L1264.7 286.3M1268.4 265.4L1251.2 260.9" stroke="#7c7c7c" stroke-width="1.5" fill="none" opacity="0.3"/>
<path d="M1153.3 355.7L1283.6 283.6M1283.6 283.6L1277.4 303.7M1283.6 283.6L1267.1 276.1" stroke="#7c7c7c" stroke-width="1.5" fill="none" opacity="0.3"/>
<path d="M1153.3 355.7L1260.8 333.3M1260.8 333.3L1250.6 350.8M1260.8 333.3L1246.4 320.9" stroke="#7c7c7c" stroke-width="1.5" fill="none" opacity="0.3"/>
<path d="M1153.3 355.7L1299.6 360.7M1299.6 360.7L1286.8 375.4M1299.6 360.7L1287.5 345.1" stroke="#7c7c7c" stroke-width="1.5" fill="none" opacity="0.3"/>
<path d="M1153.3 355.7L1325.4 385.0M1325.4 385.0L1311.3 397.9M1325.4 385.0L1314.8 367.9" stroke="#7c7c7c" stroke-width="1.5" fill="none" opacity="0.3"/>
<path d="M1153.3 355.7L1330.0 386.5M1330.0 386.5L1315.9 399.4M1330.0 386.5L1319.4 369.4" stroke="#7c7c7c" stroke-width="1.5" fill="none" opacity="0.3"/>
<path d="M1153.3 355.7L1234.2 438.5M1234.2 438.5L1216.6 440.3M1234.2 438.5L1232.7 417.1" stroke="#7c7c7c" stroke-width="1.5" fill="none" opacity="0.3"/>
<path d="M1153.3 355.7L1282.1 438.5M1282.1 438.5L1265.2 444.8M1282.1 438.5L1276.9 418.0" stroke="#7c7c7c" stroke-width="1.5" fill="none" opacity="0.3"/>
<path d="M1153.3 355.7L1260.8 464.4M1260.8 464.4L1243.2 466.4M1260.8 464.4L1259.2 443.1" stroke="#7c7c7c" stroke-width="1.5" fill="none" opacity="0.3"/>
<path d="M1153.3 355.7L1098.0 341.0M1098.0 341.0L1112.9 329.4M1098.0 341.0L1107.5 359.0" stroke="#7c7c7c" stroke-width="1.5" fill="none" opacity="0.3"/>
<path d="M1133.1 147.3H1147.1M1140.1 138.3V156.3" stroke="#2c2c2c" stroke-width="2.0" fill="none"/>
<path d="M1231.0 235.7H1245.0M1238.0 226.7V244.7" stroke="#2c2c2c" stroke-width="2.0" fill="none"/>
<path d="M1245.5 257.8H1259.5M1252.5 248.8V266.8" stroke="#2c2c2c" stroke-width="2.0" fill="none"/>
<path d="M1261.4 265.4H1275.4M1268.4 256.4V274.4" stroke="#2c2c2c" stroke-width="2.0" fill="none"/>
<path d="M1276.6 283.6H1290.6M1283.6 274.6V292.6" stroke="#2c2c2c" stroke-width="2.0" fill="none"/>
<path d="M1253.8 333.3H1267.8M1260.8 324.3V342.3" stroke="#2c2c2c" stroke-width="2.0" fill="none"/>
<path d="M1292.6 360.7H1306.6M1299.6 351.7V369.7" stroke="#2c2c2c" stroke-width="2.0" fill="none"/>
<path d="M1318.4 385.0H1332.4M1325.4 376.0V394.0" stroke="#2c2c2c" stroke-width="2.0" fill="none"/>
<path d="M1323.0 386.5H1337.0M1330.0 377.5V395.5" stroke="#2c2c2c" stroke-width="2.0" fill="none"/>
<path d="M1227.2 438.5H1241.2M1234.2 429.5V447.5" stroke="#2c2c2c" stroke-width="2.0" fill="none"/>
<path d="M1275.1 438.5H1289.1M1282.1 429.5V447.5" stroke="#2c2c2c" stroke-width="2.0" fill="none"/>
<path d="M1253.8 464.4H1267.8M1260.8 455.4V473.4" stroke="#2c2c2c" stroke-width="2.0" fill="none"/>
<path d="M1091.0 341.0H1105.0M1098.0 332.0V350.0" stroke="#2c2c2c" stroke-width="2.0" fill="none"/>
<text class="l" x="1148.5" y="154.9" textLength="38.7" lengthAdjust="spacingAndGlyphs">TotN</text>
<text class="l" x="1246.4" y="241.8" textLength="31.9" lengthAdjust="spacingAndGlyphs">Rac</text>
<text class="l" x="1260.8" y="263.9" textLength="49.2" lengthAdjust="spacingAndGlyphs">PanW</text>
<text class="l" x="1277.0" y="271.5" textLength="47.7" lengthAdjust="spacingAndGlyphs">PanD</text>
<text class="l" x="1292.5" y="292.0" textLength="42.8" lengthAdjust="spacingAndGlyphs">TotBr</text>
<text class="l" x="1269.2" y="339.4" textLength="47.1" lengthAdjust="spacingAndGlyphs">PanN</text>
<text class="l" x="1308.0" y="368.3" textLength="40.2" lengthAdjust="spacingAndGlyphs">PanL</text>
<text class="l" x="1334.5" y="394.9" textLength="49.5" lengthAdjust="spacingAndGlyphs">CulmL</text>
<text class="l" x="1344.0" y="394.9" textLength="48.3" lengthAdjust="spacingAndGlyphs">PanH</text>
<text class="l" x="1241.8" y="445.4" textLength="70.0" lengthAdjust="spacingAndGlyphs">MaxLBZ</text>
<text class="l" x="1291.2" y="445.4" textLength="42.6" lengthAdjust="spacingAndGlyphs">GWP</text>
<text class="l" x="1269.2" y="472.0" textLength="39.5" lengthAdjust="spacingAndGlyphs">GNP</text>
<text class="l" x="1106.7" y="348.7" textLength="42.5" lengthAdjust="spacingAndGlyphs" font-weight="bold">Pend</text>
</g></g>
<text class="t" x="-1.2" y="24.9" style="font-size:34px">(a)</text>
<text class="t" x="753.6" y="24.9" style="font-size:34px">(b)</text>
<text class="t" transform="translate(399.65 792) scale(1.012 1)" text-anchor="middle" style="font-size:29px">PC1 (22.3%)</text>
<text class="t" transform="translate(1153.5 791.5) scale(1.01 1)" text-anchor="middle" style="font-size:29px">PC1 (22.3 %)</text>
<text class="t" transform="translate(26.7 355.35) rotate(-90)" text-anchor="middle" style="font-size:29px">PC2 (13.2%)</text>
<text class="t" transform="translate(776.7 353.5) rotate(-90) scale(0.975 1)" text-anchor="middle" style="font-size:29px">PC4 (9.67 %)</text>
</svg>
</body></html>
